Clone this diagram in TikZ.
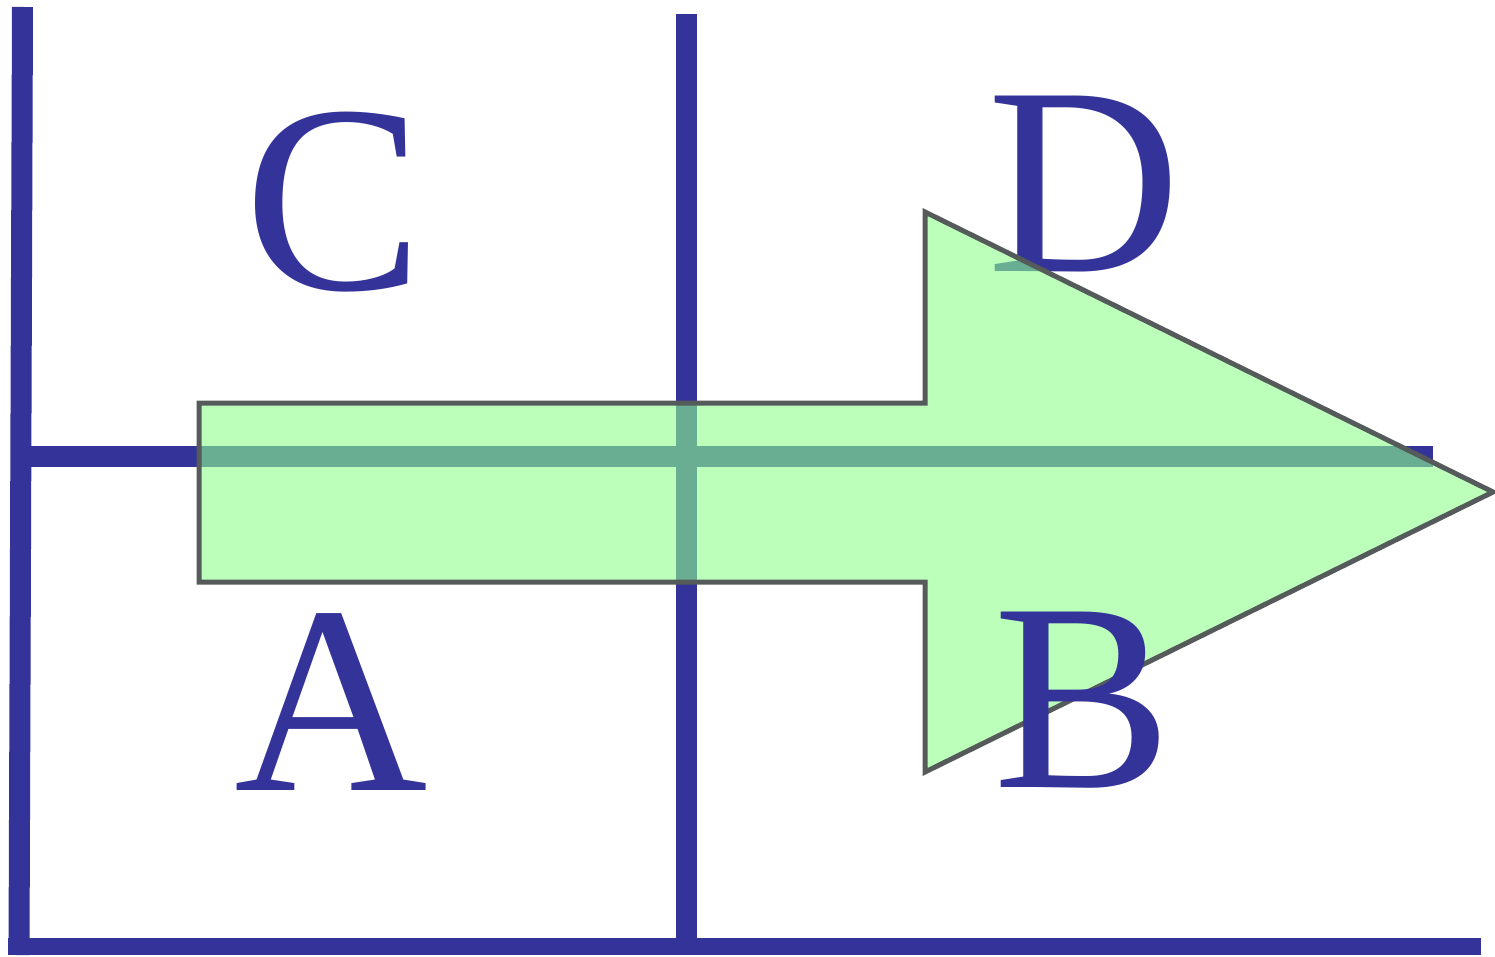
\documentclass[tikz,border=0pt]{standalone}
\usepackage{fontspec}
\setmainfont{Liberation Serif}
\definecolor{lineblue}{RGB}{51,51,153}
\definecolor{arrowfill}{RGB}{142,255,142}
\definecolor{arrowedge}{RGB}{85,90,90}
\tikzset{
  gridline/.style={draw=lineblue, line width=21pt, line cap=butt},
  letter/.style={text=lineblue, inner sep=0pt, anchor=base, font=\fontsize{268}{268}\selectfont},
  bigarrow/.style={draw=arrowedge, line width=5pt, fill=arrowfill, fill opacity=0.6, line join=miter}
}
\begin{document}
\begin{tikzpicture}[x=1pt,y=-1pt]
\useasboundingbox (0,0) rectangle (1495,957);
% grid lines
\coordinate (lt) at (22.5,7);
\coordinate (lb) at (19,955);
\coordinate (mt) at (686.5,14);
\coordinate (mb) at (686.5,940);
\coordinate (bl) at (8,946.5);
\coordinate (br) at (1481,946.5);
\coordinate (hl) at (28,456.5);
\coordinate (hr) at (1433,456.5);
\draw[gridline] (lt) -- (lb);
\draw[gridline] (mt) -- (mb);
\draw[gridline, line width=17pt] (bl) -- (br);
\draw[gridline] (hl) -- (hr);
% letters under the arrow
\node[letter] (C) at (333.5,289.5) {C};
\node[letter] (A) at (331,790) {A};
\node[letter] (D) at (1084,272) {D};
% arrow
\draw[bigarrow] (199,403) -- (925,403) -- (925,212) -- (1493,492) -- (925,772) -- (925,582) -- (199,582) -- cycle;
% letter over the arrow
\node[letter] (B) at (1082.5,787) {B};
\end{tikzpicture}
\end{document}
